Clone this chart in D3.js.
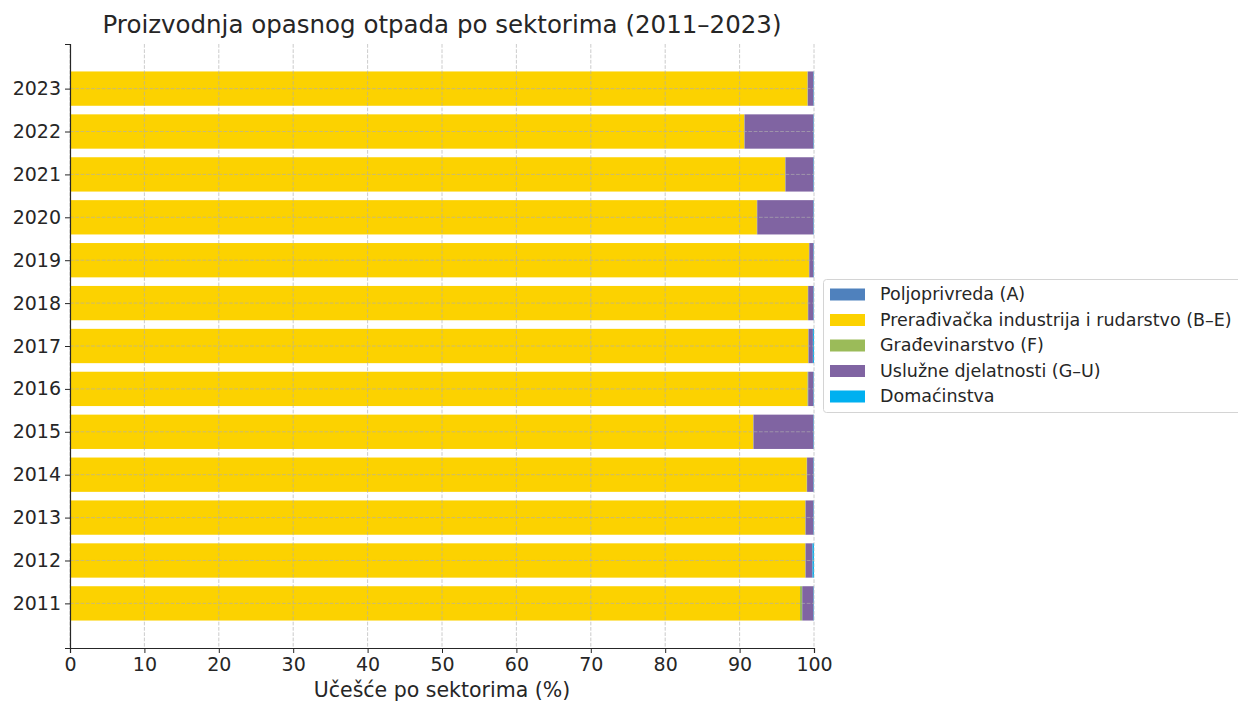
<!DOCTYPE html>
<html><head><meta charset="utf-8">
<script src="https://cdn.jsdelivr.net/npm/d3@7"></script>
<style>body{margin:0;background:#fff}svg{display:block}text{font-family:"DejaVu Sans",sans-serif;fill:#262626}</style>
</head><body><svg id="c" width="1238" height="702"></svg>
<script>
const years = [2011,2012,2013,2014,2015,2016,2017,2018,2019,2020,2021,2022,2023];
const agriculture = [0.02,0.02,0.02,0.02,0.02,0.02,0.02,0.02,0.02,0.02,0.02,0.02,0.02];
const manufacturing = [98.1,98.8,98.8,99.0,91.8,99.1,99.2,99.15,99.3,92.3,96.1,90.6,99.1];
const construction = [0.3,0.05,0.05,0.05,0.05,0.1,0.05,0.05,0.05,0.05,0.05,0.05,0.05];
const services = [1.53,0.93,1.08,0.88,8.08,0.73,0.58,0.73,0.58,7.58,3.78,9.28,0.78];
const households = [0.05,0.2,0.05,0.05,0.05,0.05,0.15,0.05,0.05,0.05,0.05,0.05,0.05];
const seriesNames = ["Poljoprivreda (A)","Prerađivačka industrija i rudarstvo (B–E)","Građevinarstvo (F)","Uslužne djelatnosti (G–U)","Domaćinstva"];
const seriesColors = ["#4f81bd","#fcd200","#9bbb59","#8064a2","#00b0f0"];
const xTicks = [0,10,20,30,40,50,60,70,80,90,100];
const title = "Proizvodnja opasnog otpada po sektorima (2011–2023)";
const xLabel = "Učešće po sektorima (%)";

const seriesVals = [agriculture, manufacturing, construction, services, households];
const rows = years.map((y,i)=>{const o={year:y}; seriesNames.forEach((n,k)=>o[n]=seriesVals[k][i]); return o;});
const stacked = d3.stack().keys(seriesNames)(rows);

const svg = d3.select("#c");
const L=70, R=814, T=44, B=648;
const x = d3.scaleLinear().domain([0,100]).range([L,R]);
const y = d3.scaleLinear().domain([-1.04,13.04]).range([B,T]);
const bh = y(0)-y(0.8);

const g = svg.append("g");
stacked.forEach((s,k)=>{
  g.selectAll(null).data(s).enter().append("rect")
   .attr("x",d=>x(d[0])).attr("width",d=>Math.max(0,x(d[1])-x(d[0])))
   .attr("y",(d,i)=>y(i)-bh/2).attr("height",bh)
   .attr("fill",seriesColors[k]);
});

// grid
const grid = svg.append("g").attr("stroke","#b0b0b0").attr("stroke-width",0.8).attr("stroke-dasharray","3.7,1.6").attr("opacity",0.8);
xTicks.forEach(t=>grid.append("line").attr("x1",x(t)).attr("x2",x(t)).attr("y1",T).attr("y2",B));
years.forEach((yr,i)=>grid.append("line").attr("x1",L).attr("x2",R).attr("y1",y(i)).attr("y2",y(i)));

// axes
const xa = svg.append("g").attr("transform",`translate(0,${B})`)
  .call(d3.axisBottom(x).tickValues(xTicks).tickSize(5).tickPadding(5));
xa.select(".domain").attr("stroke","#262626").attr("stroke-width",1.2);
xa.selectAll("text").attr("font-size",19).attr("font-family","DejaVu Sans").attr("fill","#262626");
const ya = svg.append("g").attr("transform",`translate(${L},0)`)
  .call(d3.axisLeft(y).tickValues(d3.range(years.length)).tickFormat(i=>years[i]).tickSize(5).tickPadding(4));
ya.select(".domain").attr("stroke","#262626").attr("stroke-width",1.2);
ya.selectAll("text").attr("font-size",19).attr("font-family","DejaVu Sans").attr("fill","#262626");
svg.selectAll(".tick line").attr("stroke","#262626");

svg.append("text").attr("x",(L+R)/2).attr("y",33).attr("text-anchor","middle").attr("font-size",24.5).text(title);
svg.append("text").attr("x",(L+R)/2).attr("y",697).attr("text-anchor","middle").attr("font-size",20.5).text(xLabel);

// legend
const lg = svg.append("g");
lg.append("rect").attr("x",823.5).attr("y",279.5).attr("width",420).attr("height",133).attr("rx",3)
  .attr("fill","#fff").attr("stroke","#d0d0d0").attr("opacity",0.9);
seriesNames.forEach((n,k)=>{
  const yy = 294 + k*25.5;
  lg.append("rect").attr("x",830).attr("y",yy-5.5).attr("width",35).attr("height",12).attr("fill",seriesColors[k]);
  lg.append("text").attr("x",880).attr("y",yy+6).attr("font-size",17.5).text(n);
});
</script></body></html>
